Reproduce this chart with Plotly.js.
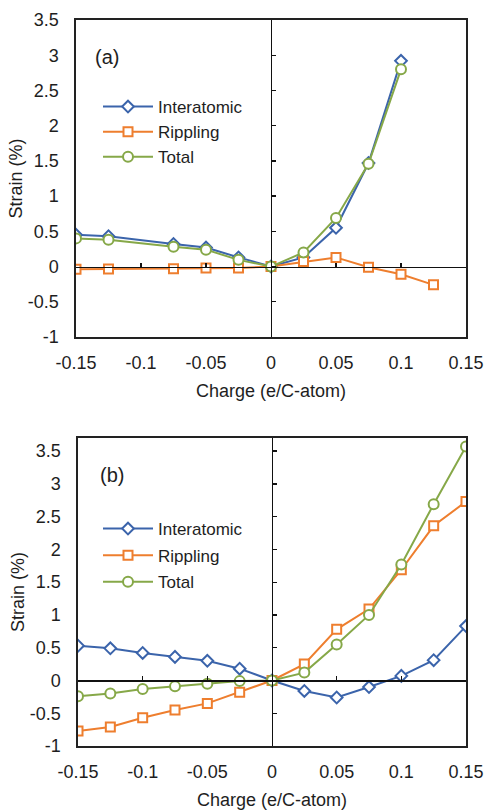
<!DOCTYPE html>
<html>
<head>
<meta charset="utf-8">
<script src="https://cdn.plot.ly/plotly-3.0.1.min.js"></script>
<style>html,body{margin:0;padding:0;background:#fff;}#chart{width:488px;height:811px;}</style>
</head>
<body>
<div id="chart"></div>
<script>
// ---------- data: panel (a) ----------
var aInterX = [-0.15, -0.125, -0.075, -0.05, -0.025, 0, 0.025, 0.05, 0.075, 0.1];
var aInterY = [0.45, 0.43, 0.32, 0.27, 0.13, 0, 0.13, 0.55, 1.47, 2.92];
var aRippX  = [-0.15, -0.125, -0.075, -0.05, -0.025, 0, 0.025, 0.05, 0.075, 0.1, 0.125];
var aRippY  = [-0.04, -0.035, -0.03, -0.02, -0.02, 0, 0.07, 0.13, -0.01, -0.11, -0.26];
var aTotX   = [-0.15, -0.125, -0.075, -0.05, -0.025, 0, 0.025, 0.05, 0.075, 0.1];
var aTotY   = [0.40, 0.38, 0.28, 0.24, 0.095, 0, 0.2, 0.69, 1.46, 2.8];
// ---------- data: panel (b) ----------
var bX      = [-0.15, -0.125, -0.1, -0.075, -0.05, -0.025, 0, 0.025, 0.05, 0.075, 0.1, 0.125, 0.15];
var bInterY = [0.53, 0.49, 0.42, 0.36, 0.30, 0.18, 0, -0.16, -0.26, -0.10, 0.07, 0.31, 0.83];
var bRippY  = [-0.77, -0.71, -0.57, -0.45, -0.35, -0.18, 0, 0.25, 0.78, 1.09, 1.69, 2.36, 2.73];
var bTotY   = [-0.24, -0.20, -0.13, -0.09, -0.05, -0.01, 0, 0.12, 0.55, 1.0, 1.77, 2.69, 3.57];
// ---------- labels ----------
var seriesNames = ['Interatomic', 'Rippling', 'Total'];
var xTickVals = [-0.15, -0.1, -0.05, 0, 0.05, 0.1, 0.15];
var xTickText = ['-0.15', '-0.1', '-0.05', '0', '0.05', '0.1', '0.15'];
var xMinorVals = [-0.15, -0.1, -0.05, 0.05, 0.1, 0.15];
var yTickVals = [-1, -0.5, 0, 0.5, 1, 1.5, 2, 2.5, 3, 3.5];
var yTickText = ['-1', '-0.5', '0', '0.5', '1', '1.5', '2', '2.5', '3', '3.5'];
var xTitle = 'Charge (e/C-atom)';
var yTitle = 'Strain (%)';
var panelLabels = ['(a)', '(b)'];

// ---------- styling ----------
var W = 488, H = 811;
var FONT = 'Liberation Sans, Arial, Helvetica, sans-serif';
var TXT = '#1e1e1e';
var C = {blue: '#3b64ab', orange: '#ee7e2e', green: '#86a848'};
var xRange = [-0.15, 0.15];
var yRangeA = [-1, 3.5], yRangeB = [-1, 3.7];
var domXA = [76 / W, 466 / W], domYA = [1 - 337 / H, 1 - 20 / H];
var domXB = [78 / W, 466 / W], domYB = [1 - 746 / H, 1 - 438 / H];
function frac(dom, rng, v) { return dom[0] + (dom[1] - dom[0]) * (v - rng[0]) / (rng[1] - rng[0]); }

function series(x, y, name, color, symbol, size, xa, ya, leg, grp) {
  return {
    x: x, y: y, name: name, type: 'scatter', mode: 'lines+markers',
    xaxis: xa, yaxis: ya, legend: leg, legendgroup: grp,
    line: {color: color, width: 2},
    marker: {symbol: symbol, size: size, color: '#ffffff', line: {color: color, width: 2}},
    hoverinfo: 'x+y+name'
  };
}

var traces = [
  series(aInterX, aInterY, seriesNames[0], C.blue, 'diamond', 9, 'x', 'y', 'legend', 'a1'),
  series(aRippX, aRippY, seriesNames[1], C.orange, 'square', 9, 'x', 'y', 'legend', 'a2'),
  series(aTotX, aTotY, seriesNames[2], C.green, 'circle', 10, 'x', 'y', 'legend', 'a3'),
  series(bX, bInterY, seriesNames[0], C.blue, 'diamond', 9, 'x3', 'y3', 'legend2', 'b1'),
  series(bX, bRippY, seriesNames[1], C.orange, 'square', 9, 'x3', 'y3', 'legend2', 'b2'),
  series(bX, bTotY, seriesNames[2], C.green, 'circle', 10, 'x3', 'y3', 'legend2', 'b3'),
  {x: [null], y: [null], xaxis: 'x2', yaxis: 'y2', type: 'scatter', mode: 'markers', showlegend: false, hoverinfo: 'skip'},
  {x: [null], y: [null], xaxis: 'x4', yaxis: 'y4', type: 'scatter', mode: 'markers', showlegend: false, hoverinfo: 'skip'}
];

function frameX(dom, anchor) {
  return {
    domain: dom, anchor: anchor, range: xRange, tickmode: 'array', tickvals: xTickVals, ticktext: xTickText,
    showline: true, mirror: true, linecolor: '#222', linewidth: 1.6,
    ticks: '', showgrid: false, zeroline: false, fixedrange: true,
    tickfont: {family: FONT, size: 18, color: TXT}, ticklabelstandoff: 9,
    title: {text: xTitle, font: {family: FONT, size: 18, color: TXT}, standoff: 12}
  };
}
function frameY(dom, rng, anchor) {
  return {
    domain: dom, anchor: anchor, range: rng, tickmode: 'array', tickvals: yTickVals, ticktext: yTickText,
    showline: true, mirror: true, linecolor: '#222', linewidth: 1.6,
    ticks: '', showgrid: false, zeroline: false, fixedrange: true,
    tickfont: {family: FONT, size: 18, color: TXT}, ticklabelstandoff: 12,
    title: {text: yTitle, font: {family: FONT, size: 18, color: TXT}, standoff: 0}
  };
}
function zeroX(over, pos) {
  return {
    overlaying: over, anchor: 'free', position: pos, range: xRange,
    tickmode: 'array', tickvals: xMinorVals, ticks: 'inside', ticklen: 4, tickwidth: 1.3, tickcolor: '#111',
    showticklabels: false, showline: true, linecolor: '#111', linewidth: 1.4,
    showgrid: false, zeroline: false, fixedrange: true
  };
}
function zeroY(over, pos, rng) {
  return {
    overlaying: over, anchor: 'free', position: pos, range: rng,
    tickmode: 'array', tickvals: yTickVals, ticks: 'inside', ticklen: 4, tickwidth: 1.3, tickcolor: '#111',
    showticklabels: false, showline: true, linecolor: '#111', linewidth: 1.4,
    showgrid: false, zeroline: false, fixedrange: true
  };
}

var layout = {
  width: W, height: H, margin: {l: 0, r: 0, t: 0, b: 0},
  paper_bgcolor: '#ffffff', plot_bgcolor: '#ffffff',
  font: {family: FONT, color: TXT},
  xaxis: frameX(domXA, 'y'), yaxis: frameY(domYA, yRangeA, 'x'),
  xaxis2: zeroX('x', frac(domYA, yRangeA, 0)), yaxis2: zeroY('y', frac(domXA, xRange, 0), yRangeA),
  xaxis3: frameX(domXB, 'y3'), yaxis3: frameY(domYB, yRangeB, 'x3'),
  xaxis4: zeroX('x3', frac(domYB, yRangeB, 0)), yaxis4: zeroY('y3', frac(domXB, xRange, 0), yRangeB),
  legend: {x: 98 / W, y: 1 - 89 / H, xanchor: 'left', yanchor: 'top', bgcolor: 'rgba(0,0,0,0)',
           font: {family: FONT, size: 17, color: TXT}, itemwidth: 50, tracegroupgap: 0, traceorder: 'grouped'},
  legend2: {x: 98 / W, y: 1 - 511 / H, xanchor: 'left', yanchor: 'top', bgcolor: 'rgba(0,0,0,0)',
           font: {family: FONT, size: 17, color: TXT}, itemwidth: 50, tracegroupgap: 1.5, traceorder: 'grouped'},
  annotations: [
    {text: panelLabels[0], xref: 'x domain', yref: 'y domain', x: 0.079, y: 0.883, xanchor: 'center', yanchor: 'middle',
     showarrow: false, font: {family: FONT, size: 20, color: TXT}},
    {text: panelLabels[1], xref: 'x3 domain', yref: 'y3 domain', x: 0.088, y: 0.88, xanchor: 'center', yanchor: 'middle',
     showarrow: false, font: {family: FONT, size: 20, color: TXT}}
  ],
  showlegend: true
};

Plotly.newPlot('chart', traces, layout, {displayModeBar: false, staticPlot: true});
</script>
</body>
</html>
